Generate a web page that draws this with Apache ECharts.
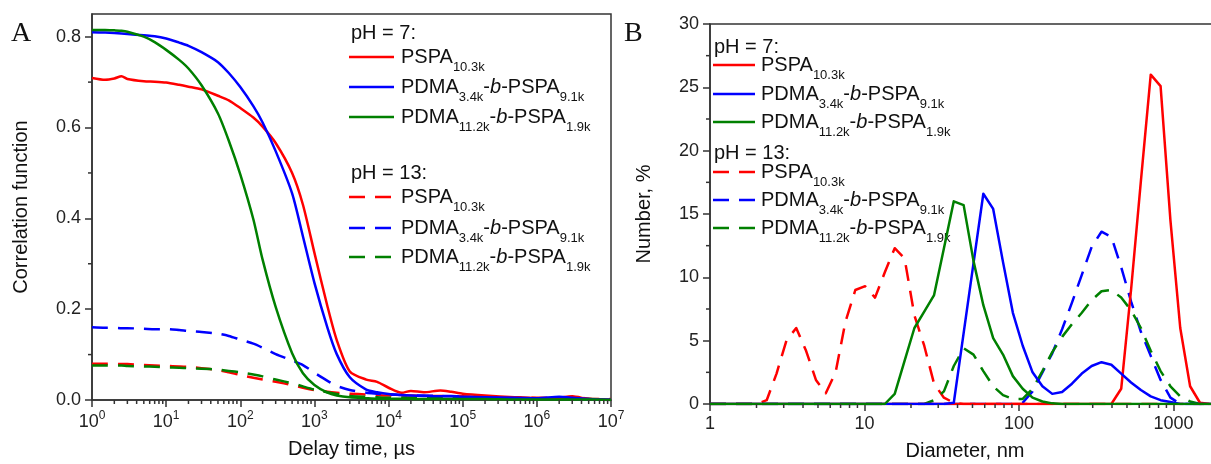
<!DOCTYPE html>
<html>
<head>
<meta charset="utf-8">
<script src="https://cdn.jsdelivr.net/npm/echarts@6/dist/echarts.min.js"></script>
<style>
  html, body { margin: 0; padding: 0; background: #ffffff; }
  #chart { width: 1211px; height: 464px; }
</style>
</head>
<body>
<div id="chart"></div>
<script>
// ---------- Panel A: DLS correlation functions ----------
const delayTimes = [1, 1.5, 2, 2.5, 3, 5, 7, 10, 15, 20, 30, 50, 70, 100, 150, 200, 300, 500, 700,
  1000, 1500, 2000, 3000, 5000, 7000, 1e4, 1.5e4, 2e4, 3e4, 5e4, 7e4, 1e5, 2e5, 5e5, 1e6, 2e6, 3e6, 5e6, 1e7];

const corrPSPA_pH7 = [0.709, 0.705, 0.708, 0.713, 0.707, 0.702, 0.701, 0.699, 0.694, 0.690, 0.684, 0.670, 0.660,
  0.643, 0.622, 0.602, 0.566, 0.500, 0.430, 0.324, 0.206, 0.132, 0.063, 0.045, 0.040, 0.027, 0.016, 0.020,
  0.017, 0.021, 0.018, 0.014, 0.010, 0.006, 0.004, 0.005, 0.008, 0.002, 0.000];
const corrPDMA34_pH7 = [0.810, 0.809, 0.808, 0.807, 0.806, 0.803, 0.801, 0.796, 0.787, 0.780, 0.766, 0.744, 0.720,
  0.689, 0.647, 0.611, 0.548, 0.455, 0.360, 0.258, 0.159, 0.101, 0.050, 0.023, 0.017, 0.013, 0.011, 0.010,
  0.009, 0.008, 0.008, 0.007, 0.006, 0.005, 0.004, 0.007, 0.005, 0.002, 0.000];
const corrPDMA112_pH7 = [0.815, 0.815, 0.814, 0.813, 0.811, 0.800, 0.788, 0.771, 0.749, 0.730, 0.693, 0.631, 0.571,
  0.497, 0.398, 0.309, 0.205, 0.103, 0.059, 0.033, 0.016, 0.010, 0.006, 0.004, 0.003, 0.003, 0.003, 0.002,
  0.002, 0.002, 0.002, 0.002, 0.002, 0.001, 0.001, 0.001, 0.001, 0.001, 0.000];
const corrPSPA_pH13 = [0.080, 0.080, 0.080, 0.079, 0.079, 0.077, 0.076, 0.075, 0.074, 0.073, 0.070, 0.066, 0.061,
  0.055, 0.049, 0.045, 0.040, 0.033, 0.027, 0.022, 0.018, 0.016, 0.014, 0.012, 0.011, 0.010, 0.010, 0.010,
  0.009, 0.009, 0.008, 0.008, 0.007, 0.006, 0.005, 0.005, 0.007, 0.003, 0.002];
const corrPDMA34_pH13 = [0.160, 0.159, 0.159, 0.158, 0.158, 0.157, 0.156, 0.156, 0.154, 0.152, 0.150, 0.146, 0.141,
  0.133, 0.124, 0.115, 0.101, 0.087, 0.077, 0.060, 0.042, 0.031, 0.022, 0.016, 0.014, 0.012, 0.011, 0.010,
  0.010, 0.009, 0.009, 0.008, 0.006, 0.005, 0.004, 0.004, 0.003, 0.002, 0.001];
const corrPDMA112_pH13 = [0.076, 0.076, 0.076, 0.076, 0.075, 0.074, 0.073, 0.072, 0.071, 0.070, 0.069, 0.067, 0.064,
  0.061, 0.056, 0.052, 0.045, 0.037, 0.030, 0.023, 0.017, 0.013, 0.009, 0.007, 0.006, 0.005, 0.005, 0.005,
  0.004, 0.004, 0.004, 0.004, 0.003, 0.003, 0.003, 0.002, 0.002, 0.002, 0.001];

// ---------- Panel B: number-weighted size distributions ----------
const diameters = [1, 2.01, 2.328, 2.696, 3.122, 3.615, 4.187, 4.849, 5.615, 6.503, 7.531, 8.721, 10.10, 11.70,
  13.54, 15.69, 18.17, 21.04, 24.36, 28.21, 32.67, 37.84, 43.82, 50.75, 58.77, 68.06, 78.82, 91.28, 105.7,
  122.4, 141.8, 164.2, 190.1, 220.2, 255.0, 295.3, 342.0, 396.1, 458.7, 531.2, 615.1, 712.4, 825.0, 955.4,
  1106, 1281, 1484, 1718, 2000];

const numPSPA_pH7 = [0, 0, 0, 0, 0, 0, 0, 0, 0, 0, 0, 0, 0, 0,
  0, 0, 0, 0, 0, 0, 0, 0, 0, 0, 0, 0, 0, 0, 0,
  0, 0, 0, 0, 0, 0, 0, 0, 0, 1.2, 9.0, 17.6, 26.0, 25.1, 14.5,
  6.0, 1.4, 0.1, 0, 0];
const numPDMA34_pH7 = [0, 0, 0, 0, 0, 0, 0, 0, 0, 0, 0, 0, 0, 0,
  0, 0, 0, 0, 0, 0, 0, 0.1, 5.6, 11.1, 16.6, 15.4, 11.2, 7.2, 4.6,
  2.5, 1.4, 0.8, 0.95, 1.6, 2.4, 3.0, 3.3, 3.1, 2.4, 1.7, 1.1, 0.6, 0.3, 0.15,
  0, 0, 0, 0, 0];
const numPDMA112_pH7 = [0, 0, 0, 0, 0, 0, 0, 0, 0, 0, 0, 0, 0, 0,
  0, 0.8, 3.4, 6.0, 7.3, 8.6, 12.3, 16.0, 15.7, 11.3, 7.8, 5.2, 3.9, 2.2, 1.2,
  0.5, 0.2, 0.05, 0, 0, 0, 0, 0, 0, 0, 0, 0, 0, 0, 0,
  0, 0, 0, 0, 0];
const numPSPA_pH13 = [0, 0, 0.3, 2.4, 5.0, 6.0, 4.2, 1.9, 0.85, 2.5, 6.5, 9.0, 9.3, 8.4,
  10.4, 12.3, 11.5, 7.0, 4.6, 1.6, 0.5, 0.1, 0, 0, 0, 0, 0, 0, 0,
  0, 0, 0, 0, 0, 0, 0, 0, 0, 0, 0, 0, 0, 0, 0,
  0, 0, 0, 0, 0];
const numPDMA34_pH13 = [0, 0, 0, 0, 0, 0, 0, 0, 0, 0, 0, 0, 0, 0,
  0, 0, 0, 0, 0, 0, 0, 0, 0, 0, 0, 0, 0, 0, 0.1,
  1.0, 2.5, 4.0, 5.9, 8.0, 10.2, 12.4, 13.6, 13.2, 10.8, 8.1, 5.7, 3.8, 1.9, 0.5,
  0, 0, 0, 0, 0];
const numPDMA112_pH13 = [0, 0, 0, 0, 0, 0, 0, 0, 0, 0, 0, 0, 0, 0,
  0, 0, 0, 0, 0, 0.3, 1.0, 3.0, 4.4, 3.9, 2.6, 1.4, 0.7, 0.4, 0.4,
  1.2, 2.6, 4.1, 5.3, 6.3, 7.2, 8.2, 8.9, 9.0, 8.4, 7.4, 6.0, 4.2, 2.6, 1.4,
  0.6, 0.2, 0, 0, 0];

// ---------- Axis ticks and labels ----------
const corrTicks = [0, 0.2, 0.4, 0.6, 0.8];
const corrMinorTicks = [0.1, 0.3, 0.5, 0.7];
const delayTicks = [1, 10, 100, 1000, 1e4, 1e5, 1e6, 1e7];
const numberTicks = [0, 5, 10, 15, 20, 25, 30];
const numberMinorTicks = [2.5, 7.5, 12.5, 17.5, 22.5, 27.5];
const diameterTicks = [1, 10, 100, 1000];
// log-axis minor ticks at 2..9 within each decade
const logMinor = (decades, maxVal) => decades.flatMap(d => [2, 3, 4, 5, 6, 7, 8, 9].map(k => k * d))
  .filter(v => v <= maxVal);
const delayMinorTicks = logMinor(delayTicks.slice(0, -1), 1e7);
const diameterMinorTicks = logMinor(diameterTicks, 2000);

// ---------- Legend text ----------
const samples = [
  { key: 'PSPA', color: '#ff0000', label: '{n|PSPA}{s|10.3k}' },
  { key: 'PDMA34', color: '#0000ff', label: '{n|PDMA}{s|3.4k}{n|-}{i|b}{n|-PSPA}{s|9.1k}' },
  { key: 'PDMA112', color: '#008000', label: '{n|PDMA}{s|11.2k}{n|-}{i|b}{n|-PSPA}{s|1.9k}' }
];
const phHeaders = ['pH = 7:', 'pH = 13:'];

const FONT = '"Liberation Sans", Arial, Helvetica, sans-serif';
const AXIS_COLOR = '#333333';
const DASH = [16, 10];
const TEXT_SIZE = 20;
const TICK_SIZE = 18;

const chart = echarts.init(document.getElementById('chart'), null, { renderer: 'canvas' });

function lineSeries(name, gi, xs, ys, color, dashed) {
  return {
    name, type: 'line', xAxisIndex: gi, yAxisIndex: gi,
    data: xs.map((x, i) => [x, ys[i]]),
    showSymbol: false, symbol: 'none', smooth: gi === 0 ? 0.25 : false,
    lineStyle: { color, width: 2.5, type: dashed ? DASH : 'solid', cap: 'butt', join: 'round' },
    z: dashed ? 2 : 3, silent: true
  };
}

function minorTickSeries(gi, dim, values, origin) {
  return {
    type: 'custom', xAxisIndex: gi, yAxisIndex: gi, silent: true, clip: false, z: 4,
    data: values.map(v => dim === 'x' ? [v, origin] : [origin, v]),
    renderItem: (params, api) => {
      const p = api.coord([api.value(0), api.value(1)]);
      const shape = dim === 'x'
        ? { x1: p[0], y1: p[1], x2: p[0], y2: p[1] + 4 }
        : { x1: p[0] - 4, y1: p[1], x2: p[0], y2: p[1] };
      return { type: 'line', shape, style: { stroke: AXIS_COLOR, lineWidth: 1.5 } };
    }
  };
}

function axisBase(extra) {
  return Object.assign({
    axisLine: { show: true, onZero: false, lineStyle: { color: AXIS_COLOR, width: 1.5 } },
    splitLine: { show: false },
    nameLocation: 'middle',
    nameTextStyle: { fontFamily: FONT, fontSize: TEXT_SIZE, color: '#111' }
  }, extra);
}

function majorTicks(values) {
  return { show: true, length: 7, customValues: values, lineStyle: { color: AXIS_COLOR, width: 1.5 } };
}

const supRich = {
  b: { fontFamily: FONT, fontSize: TICK_SIZE, color: '#222', verticalAlign: 'bottom', lineHeight: 21 },
  s: { fontFamily: FONT, fontSize: 12, color: '#222', verticalAlign: 'top' }
};

// legend block built from text + line samples
function legendBlock(x0, headerYs, rowYs, lineX, textX) {
  const els = [];
  const textStyle = { fontFamily: FONT, fontSize: TEXT_SIZE, fill: '#111' };
  const rich = {
    n: { fontFamily: FONT, fontSize: TEXT_SIZE, verticalAlign: 'top' },
    i: { fontFamily: FONT, fontSize: TEXT_SIZE, fontStyle: 'italic', verticalAlign: 'top' },
    s: { fontFamily: FONT, fontSize: 13, verticalAlign: 'bottom', lineHeight: 27 }
  };
  phHeaders.forEach((h, gi) => {
    els.push({ type: 'text', x: x0, y: headerYs[gi], silent: true,
      style: Object.assign({ text: h, verticalAlign: 'middle' }, textStyle) });
    samples.forEach((s, k) => {
      const y = rowYs[gi][k];
      els.push({ type: 'line', silent: true,
        shape: { x1: lineX[0], y1: y, x2: lineX[1], y2: y },
        style: { stroke: s.color, lineWidth: 2.5, lineDash: gi === 1 ? DASH : null } });
      els.push({ type: 'text', x: textX, y: y - 10, silent: true,
        style: Object.assign({ text: s.label, rich, verticalAlign: 'top' }, textStyle) });
    });
  });
  return els;
}

const option = {
  animation: false,
  backgroundColor: '#ffffff',
  grid: [
    { left: 92, top: 14, width: 519, height: 386, show: true, borderColor: AXIS_COLOR, borderWidth: 1.5,
      outerBoundsMode: 'none', containLabel: false },
    { left: 710, top: 24, width: 510, height: 380, show: true, borderColor: AXIS_COLOR, borderWidth: 1.5,
      outerBoundsMode: 'none', containLabel: false }
  ],
  xAxis: [
    axisBase({ gridIndex: 0, type: 'log', logBase: 10, min: 1, max: 1e7,
      name: 'Delay time, µs', nameGap: 39,
      axisTick: majorTicks(delayTicks),
      axisLabel: { customValues: delayTicks, margin: 10, rich: supRich,
        formatter: v => '{b|10}{s|' + Math.round(Math.log10(v)) + '}' } }),
    axisBase({ gridIndex: 1, type: 'log', logBase: 10, min: 1, max: 2000,
      name: 'Diameter, nm', nameGap: 37,
      axisTick: majorTicks(diameterTicks),
      axisLabel: { customValues: diameterTicks, margin: 11, fontFamily: FONT, fontSize: TICK_SIZE, color: '#222',
        formatter: v => String(Math.round(v)) } })
  ],
  yAxis: [
    axisBase({ gridIndex: 0, type: 'value', min: 0, max: 0.85,
      name: 'Correlation function', nameGap: 61,
      axisTick: majorTicks(corrTicks),
      axisLabel: { customValues: corrTicks, margin: 11, fontFamily: FONT, fontSize: TICK_SIZE, color: '#222',
        formatter: v => v.toFixed(1) } }),
    axisBase({ gridIndex: 1, type: 'value', min: 0, max: 30, interval: 5,
      name: 'Number, %', nameGap: 56,
      axisTick: majorTicks(numberTicks),
      axisLabel: { customValues: numberTicks, margin: 11, fontFamily: FONT, fontSize: TICK_SIZE, color: '#222' } })
  ],
  series: [
    lineSeries('PSPA10.3k pH 7', 0, delayTimes, corrPSPA_pH7, '#ff0000', false),
    lineSeries('PDMA3.4k-b-PSPA9.1k pH 7', 0, delayTimes, corrPDMA34_pH7, '#0000ff', false),
    lineSeries('PDMA11.2k-b-PSPA1.9k pH 7', 0, delayTimes, corrPDMA112_pH7, '#008000', false),
    lineSeries('PSPA10.3k pH 13', 0, delayTimes, corrPSPA_pH13, '#ff0000', true),
    lineSeries('PDMA3.4k-b-PSPA9.1k pH 13', 0, delayTimes, corrPDMA34_pH13, '#0000ff', true),
    lineSeries('PDMA11.2k-b-PSPA1.9k pH 13', 0, delayTimes, corrPDMA112_pH13, '#008000', true),

    lineSeries('PSPA10.3k pH 13 ', 1, diameters, numPSPA_pH13, '#ff0000', true),
    lineSeries('PDMA3.4k-b-PSPA9.1k pH 13 ', 1, diameters, numPDMA34_pH13, '#0000ff', true),
    lineSeries('PDMA11.2k-b-PSPA1.9k pH 13 ', 1, diameters, numPDMA112_pH13, '#008000', true),
    lineSeries('PSPA10.3k pH 7 ', 1, diameters, numPSPA_pH7, '#ff0000', false),
    lineSeries('PDMA3.4k-b-PSPA9.1k pH 7 ', 1, diameters, numPDMA34_pH7, '#0000ff', false),
    lineSeries('PDMA11.2k-b-PSPA1.9k pH 7 ', 1, diameters, numPDMA112_pH7, '#008000', false),

    minorTickSeries(0, 'x', delayMinorTicks, 0),
    minorTickSeries(0, 'y', corrMinorTicks, 1),
    minorTickSeries(1, 'x', diameterMinorTicks, 0),
    minorTickSeries(1, 'y', numberMinorTicks, 1)
  ],
  graphic: [
    { type: 'text', x: 11, y: 20, silent: true,
      style: { text: 'A', fontFamily: '"Liberation Serif", "Times New Roman", serif', fontSize: 28, fill: '#111' } },
    { type: 'text', x: 624, y: 20, silent: true,
      style: { text: 'B', fontFamily: '"Liberation Serif", "Times New Roman", serif', fontSize: 28, fill: '#111' } }
  ].concat(
    legendBlock(351, [33, 173], [[57, 87, 117], [197, 228, 257]], [349, 394], 401),
    legendBlock(714, [47, 153], [[65, 94, 122], [172, 200, 228]], [713, 755], 761)
  )
};

chart.setOption(option);
</script>
</body>
</html>
